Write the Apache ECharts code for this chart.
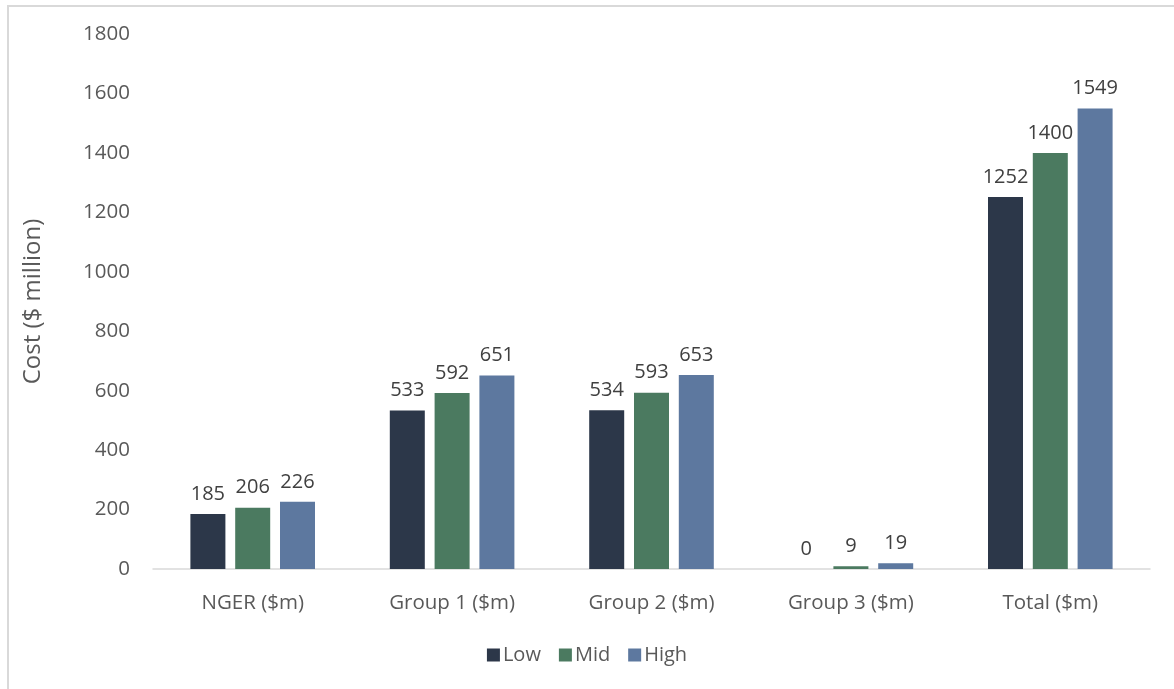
<!DOCTYPE html>
<html>
<head>
<meta charset="utf-8">
<script src="https://cdn.jsdelivr.net/npm/echarts@6/dist/echarts.min.js"></script>
<style>
html,body{margin:0;padding:0;background:#fff;}
#frame{position:absolute;left:7px;top:5px;width:1200px;height:700px;border-top:2px solid #d9d9d9;border-left:2px solid #d9d9d9;}
#chart{position:absolute;left:0;top:0;width:1174px;height:689px;}
</style>
</head>
<body>
<div id="frame"></div>
<div id="chart"></div>
<script>
const categories = ['NGER ($m)', 'Group 1 ($m)', 'Group 2 ($m)', 'Group 3 ($m)', 'Total ($m)'];
const seriesNames = ['Low', 'Mid', 'High'];
const lowValues = [185, 533, 534, 0, 1252];
const midValues = [206, 592, 593, 9, 1400];
const highValues = [226, 651, 653, 19, 1549];
const colors = ['#2c3749', '#4b7a60', '#5d789f'];

const font = '"Open Sans", sans-serif';
const chart = echarts.init(document.getElementById('chart'));
const values = [lowValues, midValues, highValues];
chart.setOption({
  animation: false,
  textStyle: {fontFamily: font},
  grid: {left: 153, right: 24, top: 34, bottom: 120, containLabel: false},
  legend: {
    bottom: 19, left: 'center',
    itemWidth: 13, itemHeight: 13, itemGap: 18,
    icon: 'rect',
    textStyle: {fontSize: 20, color: '#595959', fontFamily: font, padding: [0, 0, 0, -2]},
    data: seriesNames
  },
  xAxis: {
    type: 'category', data: categories,
    axisLine: {lineStyle: {color: '#d9d9d9', width: 1.5}},
    axisTick: {show: false},
    axisLabel: {fontSize: 20.5, color: '#595959', margin: 24, fontFamily: font}
  },
  yAxis: {
    type: 'value', min: 0, max: 1800, interval: 200,
    name: 'Cost ($ million)', nameLocation: 'middle', nameGap: 108, nameRotate: 90,
    nameTextStyle: {fontSize: 24, color: '#595959', fontFamily: font},
    splitLine: {show: false},
    axisLine: {show: false}, axisTick: {show: false},
    axisLabel: {fontSize: 20.5, color: '#595959', margin: 23, fontFamily: font, formatter: v => String(v)}
  },
  series: seriesNames.map((n, i) => ({
    name: n, type: 'bar', data: values[i],
    barWidth: 35, barGap: '28%',
    itemStyle: {color: colors[i]},
    label: {show: true, position: 'top', distance: 10, fontSize: 20, color: '#404040', fontFamily: font}
  }))
});
</script>
</body>
</html>
